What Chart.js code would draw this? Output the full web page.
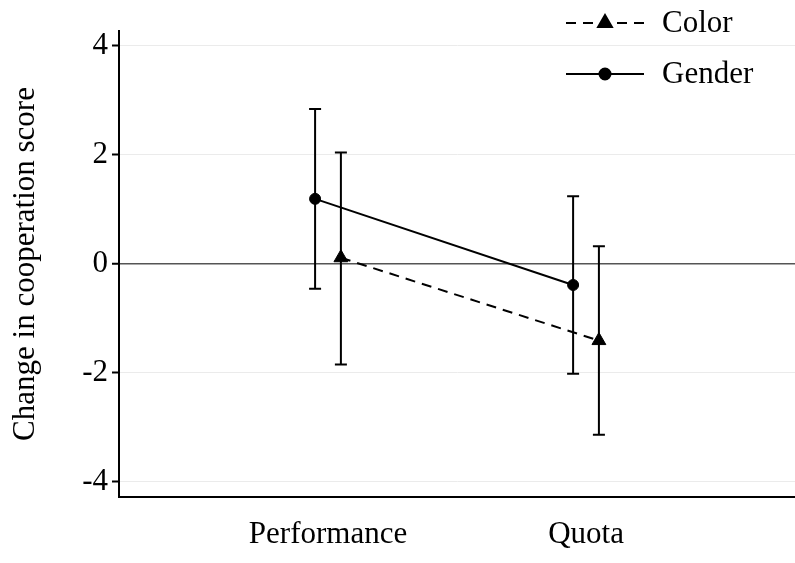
<!DOCTYPE html>
<html>
<head>
<meta charset="utf-8">
<script src="https://cdn.jsdelivr.net/npm/chart.js@4/dist/chart.umd.min.js"></script>
<style>
  body { margin: 0; background: #fff; }
  #wrap { width: 795px; height: 563px; }
</style>
</head>
<body>
<div id="wrap"><canvas id="chart"></canvas></div>
<script>
// categories on the x axis (placed at 1, 2) and dodge offset per series
const categories = ["Performance", "Quota"];
const categoryPos = [1, 2];
const yTicks = [-4, -2, 0, 2, 4];

// Gender: means and interval ends
const genderMean = [1.19, -0.39];
const genderLow = [-0.46, -2.02];
const genderHigh = [2.84, 1.24];

// Color: means and interval ends
const colorMean = [0.11, -1.41];
const colorLow = [-1.85, -3.14];
const colorHigh = [2.04, 0.32];

const dodge = 0.05;
const FONT = "Liberation Serif";
const FSIZE = 31;

function points(mean, low, high, shift) {
    return mean.map((m, i) => ({ x: categoryPos[i] + shift, y: m, low: low[i], high: high[i] }));
}

const errorBars = {
    id: "errorBars",
    beforeDatasetsDraw(chart) {
        const ctx = chart.ctx;
        const xs = chart.scales.x;
        const ys = chart.scales.y;
        ctx.save();
        ctx.strokeStyle = "#000";
        ctx.lineWidth = 2;
        ctx.setLineDash([]);
        chart.data.datasets.forEach(ds => {
            ds.data.forEach(p => {
                const x = xs.getPixelForValue(p.x);
                const yl = ys.getPixelForValue(p.low);
                const yh = ys.getPixelForValue(p.high);
                ctx.beginPath();
                ctx.moveTo(x, yl); ctx.lineTo(x, yh);
                ctx.moveTo(x - 6, yl); ctx.lineTo(x + 6, yl);
                ctx.moveTo(x - 6, yh); ctx.lineTo(x + 6, yh);
                ctx.stroke();
            });
        });
        ctx.restore();
    }
};

// legend drawn by hand: line + marker sample, then the label
const legendBox = {
    id: "legendBox",
    afterDraw(chart) {
        const ctx = chart.ctx;
        ctx.save();
        ctx.strokeStyle = "#000";
        ctx.fillStyle = "#000";
        ctx.lineWidth = 2;
        chart.data.datasets.forEach((ds, i) => {
            const y = 23 + i * 51;
            ctx.setLineDash(ds.borderDash || []);
            ctx.beginPath();
            ctx.moveTo(566, y); ctx.lineTo(644, y);
            ctx.stroke();
            ctx.setLineDash([]);
            Chart.helpers.drawPoint(ctx, { pointStyle: ds.pointStyle, radius: ds.pointRadius, borderWidth: 1 }, 605, y);
            ctx.fill();
            ctx.font = FSIZE + "px '" + FONT + "'";
            ctx.textBaseline = "middle";
            ctx.textAlign = "left";
            ctx.fillText(ds.label, 662, y + 1);
        });
        ctx.restore();
    }
};

new Chart(document.getElementById("chart"), {
    type: "line",
    data: {
        datasets: [
            {
                label: "Color",
                data: points(colorMean, colorLow, colorHigh, dodge),
                borderColor: "#000",
                backgroundColor: "#000",
                borderWidth: 2,
                borderDash: [10, 7],
                pointStyle: "triangle",
                pointRadius: 8,
                pointBorderWidth: 1
            },
            {
                label: "Gender",
                data: points(genderMean, genderLow, genderHigh, -dodge),
                borderColor: "#000",
                backgroundColor: "#000",
                borderWidth: 2,
                pointStyle: "circle",
                pointRadius: 5.5,
                pointBorderWidth: 1
            }
        ]
    },
    options: {
        responsive: true,
        maintainAspectRatio: false,
        animation: false,
        layout: { autoPadding: false, padding: { top: 31, right: 0, left: 0, bottom: 0 } },
        plugins: {
            legend: { display: false },
            tooltip: { enabled: false }
        },
        scales: {
            x: {
                type: "linear",
                min: 0.19,
                max: 2.81,
                afterBuildTicks: s => { s.ticks = categoryPos.map(v => ({ value: v })); },
                afterFit: s => { s.height = 66; s.paddingLeft = 0; s.paddingRight = 0; },
                grid: { display: false, drawTicks: false },
                border: { display: true, color: "#000", width: 2 },
                ticks: {
                    callback: v => categories[categoryPos.indexOf(v)],
                    color: "#000",
                    font: { family: FONT, size: FSIZE },
                    padding: 19,
                    maxRotation: 0
                }
            },
            y: {
                min: -4.28,
                max: 4.27,
                afterBuildTicks: s => { s.ticks = yTicks.map(v => ({ value: v })); },
                afterFit: s => { s.width = 119; },
                grid: {
                    color: c => (c.tick && c.tick.value === 0 ? "#555" : "#ebebeb"),
                    lineWidth: c => (c.tick && c.tick.value === 0 ? 1.5 : 1),
                    tickColor: "#000",
                    tickLength: 7,
                    tickWidth: 2
                },
                border: { display: true, color: "#000", width: 2 },
                ticks: {
                    color: "#000",
                    font: { family: FONT, size: FSIZE },
                    padding: 4
                },
                title: {
                    display: true,
                    text: "Change in cooperation score",
                    color: "#000",
                    font: { family: FONT, size: FSIZE },
                    padding: { top: 7, bottom: 0 }
                }
            }
        }
    },
    plugins: [errorBars, legendBox]
});
</script>
</body>
</html>
